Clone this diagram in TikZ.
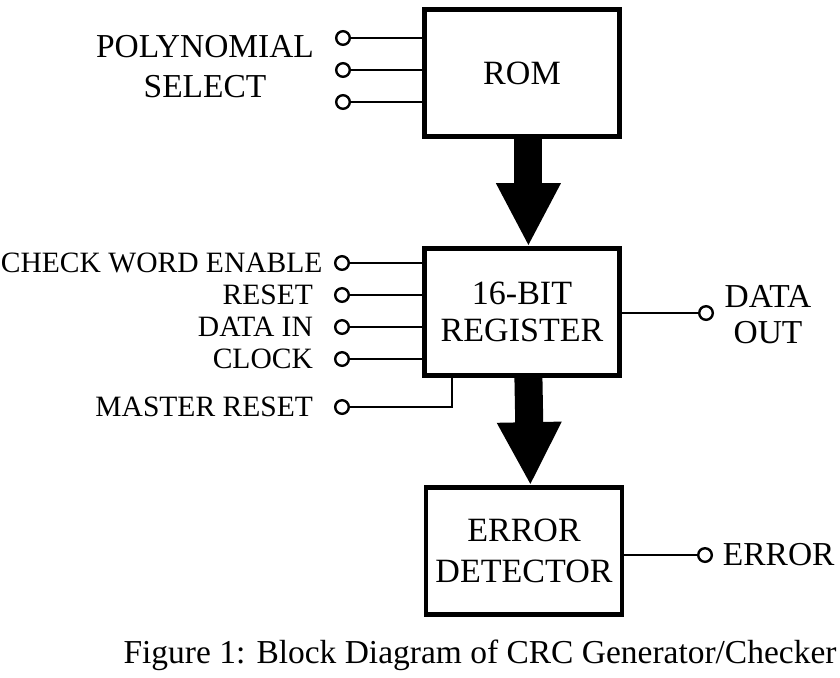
\documentclass[tikz,border=0pt]{standalone}
\usepackage{fontspec}
\setmainfont{Liberation Serif}
\usetikzlibrary{arrows.meta,positioning}

\tikzset{
  block/.style={rectangle, draw, line width=0.06cm, minimum width=2.44cm, minimum height=1.58cm, align=center, font=\fontsize{12.1}{13}\selectfont},
  pin/.style={circle, draw, line width=0.03cm, fill=white, inner sep=0pt, minimum size=0.17cm},
  lbl/.style={font=\fontsize{10.5}{14.2}\selectfont},
  biglbl/.style={font=\fontsize{11.9}{14.2}\selectfont},
  wire/.style={line width=0.03cm},
  bus/.style={line width=0.35cm, -{Triangle[width=0.75cm,length=0.79cm]}}
}

\begin{document}
\begin{tikzpicture}[x=0.0125cm, y=-0.0125cm]
    \useasboundingbox (0,0) rectangle (840,677);

    \node[block] (rom) at (522,73) {ROM};
    \node[block] (reg) at (522,312) {16-BIT\\REGISTER};
    \node[block, font=\fontsize{12.1}{14.5}\selectfont] (err) at (524,551) {ERROR\\DETECTOR};

    % ROM inputs
    \node[pin] (ps1) at (343,38) {};
    \node[pin] (ps2) at (343,70) {};
    \node[pin] (ps3) at (343,102) {};
    \node[biglbl, align=center] (poly) at (205,67) {POLYNOMIAL\\SELECT};

    % register inputs
    \node[pin] (cwe) at (342,263) {};
    \node[pin] (rst) at (342,295) {};
    \node[pin] (din) at (342,327) {};
    \node[pin] (clk) at (342,359) {};
    \node[pin] (mr) at (342,407) {};
    \node[lbl, left=0.02cm of cwe] (cwe_l) {CHECK WORD ENABLE};
    \node[lbl, left=0.14cm of rst] (rst_l) {RESET};
    \node[lbl, left=0.14cm of din] (din_l) {DATA IN};
    \node[lbl, left=0.14cm of clk] (clk_l) {CLOCK};
    \node[lbl, left=0.14cm of mr] (mr_l) {MASTER RESET};

    % outputs
    \node[pin] (dout) at (706,313) {};
    \node[biglbl, align=center, font=\fontsize{11.9}{12.8}\selectfont] (dout_l) at (768,315) {DATA\\OUT};
    \node[pin] (eout) at (705,555) {};
    \node[biglbl, right=0pt of eout] (eout_l) {ERROR};

    \node[biglbl] (cap) at (480,655) {Figure 1: Block Diagram of CRC Generator/Checker};

    \draw[wire] (ps1.east) -- (ps1.east -| rom.west);
    \draw[wire] (ps2.east) -- (ps2.east -| rom.west);
    \draw[wire] (ps3.east) -- (ps3.east -| rom.west);
    \draw[wire] (cwe.east) -- (cwe.east -| reg.west);
    \draw[wire] (rst.east) -- (rst.east -| reg.west);
    \draw[wire] (din.east) -- (din.east -| reg.west);
    \draw[wire] (clk.east) -- (clk.east -| reg.west);
    \draw[wire] (mr.east) -| ([xshift=0.375cm]reg.south west);
    \draw[wire] (dout.west) -- (dout.west -| reg.east);
    \draw[wire] (eout.west) -- (eout.west -| err.east);

    \draw[bus] ([xshift=0.08cm]rom.south) -- ([xshift=0.08cm]reg.north);
    \draw[bus] ([xshift=0.08cm]reg.south) -- ([xshift=0.08cm]err.north);
\end{tikzpicture}
\end{document}
